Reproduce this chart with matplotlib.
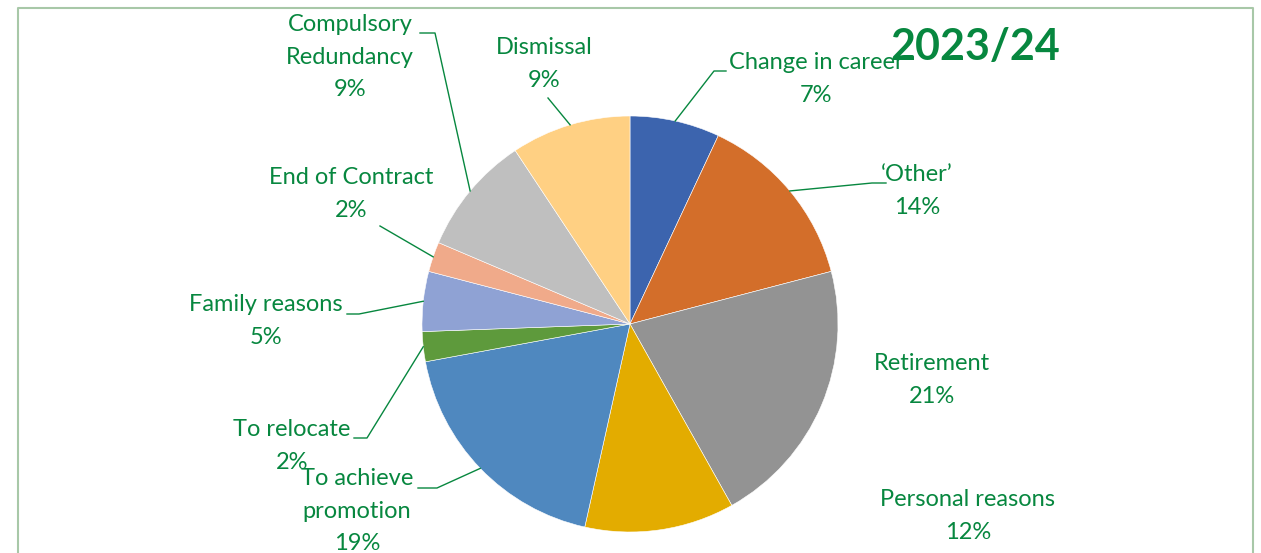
import numpy as np
import matplotlib.pyplot as plt

# leavers by reason, 2023/24 (counts)
reasons = ['Change in career', '\u2018Other\u2019', 'Retirement', 'Personal reasons',
           'To achieve\npromotion', 'To relocate', 'Family reasons', 'End of Contract',
           'Compulsory\nRedundancy', 'Dismissal']
counts = [3, 6, 9, 5, 8, 1, 2, 1, 4, 4]
colors = ['#3C64AE', '#D36E2A', '#939393', '#E3AC00', '#4F88BF',
          '#5E9A3C', '#8FA2D4', '#F0AA8A', '#BFBFBF', '#FFD083']
year = '2023/24'

W, H = 1261, 553
GREEN = '#07873F'
plt.rcParams['font.family'] = ['Lato', 'DejaVu Sans']

fig = plt.figure(figsize=(W / 100, H / 100), dpi=100)
ax = fig.add_axes([0, 0, 1, 1])

cx, cy, r = 630, H - 324, 208
wedges, _ = ax.pie(counts, colors=colors, startangle=90, counterclock=False,
                   center=(cx, cy), radius=r, frame=True,
                   wedgeprops=dict(edgecolor='white', linewidth=0.4))
ax.set_xlim(0, W)
ax.set_ylim(0, H)
ax.set_aspect('equal')
ax.axis('off')

# frame around the chart area
ax.plot([18, 18, 1253, 1253], [-5, H - 8, H - 8, -5], color='#A8C8A8', lw=1.5,
        clip_on=False)

pct = [f'{round(c / sum(counts) * 100)}%' for c in counts]

# label centre (px from top-left), leader path (elbow, end) or None
label_pos = [(816, 79), (917, 191), (932, 380), (968, 516), (357, 511),
             (292, 446), (266, 321), (351, 194), (350, 57), (544, 64)]
leaders = [[(714, 71), (726, 71)], [(872, 183), (886, 183)], None, None,
           [(437, 488), (418, 488)], [(367, 438), (354, 438)],
           [(359, 314), (347, 314)], [(380, 226)], [(435, 33), (420, 33)],
           [(548, 98)]]

for w, name, p, (lx, ly), lead in zip(wedges, reasons, pct, label_pos, leaders):
    ax.text(lx, H - ly, name + '\n' + p, ha='center', va='center',
            color=GREEN, fontsize=17, linespacing=1.68)
    if lead:
        mid = np.deg2rad((w.theta1 + w.theta2) / 2)
        xs = [cx + r * np.cos(mid)] + [x for x, y in lead]
        ys = [cy + r * np.sin(mid)] + [H - y for x, y in lead]
        ax.plot(xs, ys, color=GREEN, lw=1)

ax.text(975, H - 47, year, ha='center', va='center', color=GREEN,
        fontsize=31, fontweight='bold')

fig.savefig('out.png', dpi=100)
